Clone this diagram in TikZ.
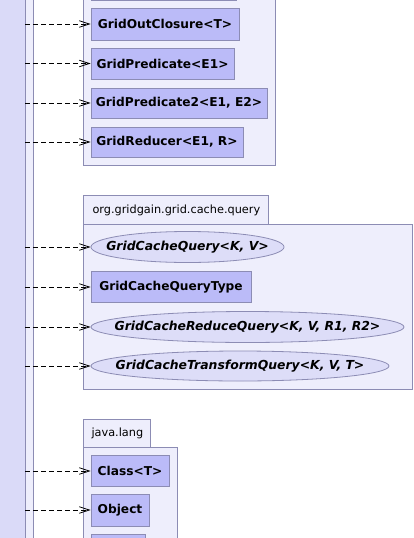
\documentclass[tikz,border=0pt]{standalone}
\usepackage{fontspec}
\setmainfont{DejaVu Sans}
\usetikzlibrary{arrows.meta,shapes.geometric}
\definecolor{band}{RGB}{218,218,248}
\definecolor{strip}{RGB}{238,238,252}
\definecolor{pkg}{RGB}{238,238,252}
\definecolor{cls}{RGB}{187,187,248}
\definecolor{ifc}{RGB}{221,221,248}
\definecolor{bord}{RGB}{140,140,180}
\newcommand{\zw}[1]{\makebox[0pt]{#1}}
\tikzset{
  pkgbox/.style={draw=bord,fill=pkg,line width=0.8pt},
  clsbox/.style={draw=bord,fill=cls,line width=0.8pt,rectangle,inner sep=0pt,font=\fontsize{12.2}{14}\selectfont\bfseries},
  ifcbox/.style={draw=bord,fill=ifc,line width=0.8pt,ellipse,inner sep=0pt,font=\fontsize{12.4}{14}\selectfont\bfseries\itshape},
  tablabel/.style={font=\fontsize{11.3}{13}\selectfont},
  dep/.style={dash pattern=on 5pt off 3pt,line width=0.8pt,-{Straight Barb[length=10pt,width=6.5pt,line width=0.8pt]}}
}
\begin{document}
\begin{tikzpicture}[x=1pt,y=-1pt]
\useasboundingbox (0,0) rectangle (414,538);
\clip (0,0) rectangle (414,538);
\fill[white] (0,0) rectangle (414,538);
% left band
\fill[band] (-5,-10) rectangle (25,560);
\fill[strip] (25,-10) rectangle (33,560);
\draw[bord,line width=0.8pt] (25,-10) -- (25,560);
\draw[bord,line width=0.8pt] (33,-10) -- (33,560);
% package 1
\draw[pkgbox] (83,-20) rectangle (275,165);
\node[clsbox,minimum width=145pt,minimum height=31pt] (n0) at (163.5,-15.5) {};
\node[clsbox,minimum width=148pt,minimum height=32pt] (n1) at (165,24) {GridOutClosure<T>};
\node[clsbox,minimum width=143pt,minimum height=31pt] (n2) at (162.5,63.5) {GridPredicate<E1>};
\node[clsbox,minimum width=176pt,minimum height=30pt] (n3) at (179,103) {GridPredicate2<E1, E2>};
\node[clsbox,minimum width=152pt,minimum height=30pt] (n4) at (167,142) {GridReducer<E1, R>};
% package 2
\draw[pkgbox] (83,195) rectangle (268,224);
\node[tablabel,anchor=west] (t2) at (89,210) {org.gridgain.grid.cache.query};
\draw[pkgbox] (83,224) rectangle (412,389);
\node[ifcbox,minimum width=193pt,minimum height=31pt] (m1) at (187.5,247) {\zw{GridCacheQuery<K, V>}};
\node[clsbox,minimum width=160pt,minimum height=31pt] (m2) at (171,287) {GridCacheQueryType};
\node[ifcbox,minimum width=313pt,minimum height=31pt] (m3) at (247.5,327) {\zw{GridCacheReduceQuery<K, V, R1, R2>}};
\node[ifcbox,minimum width=298pt,minimum height=30pt] (m4) at (240,366) {\zw{GridCacheTransformQuery<K, V, T>}};
% package 3
\draw[pkgbox] (83,419) rectangle (150,447);
\node[tablabel,anchor=west] (t3) at (88,433.5) {java.lang};
\draw[pkgbox] (83,447) rectangle (177,600);
\node[clsbox,minimum width=78pt,minimum height=31pt] (k1) at (130,471) {Class<T>};
\node[clsbox,minimum width=58pt,minimum height=32pt] (k2) at (120,510) {Object};
\node[clsbox,minimum width=54pt,minimum height=31pt] (k3) at (118,549.5) {};
% sources
\foreach \n/\y in {1/24,2/63.5,3/103,4/142}{\coordinate (a\n) at (25,\y);}
\foreach \n/\y in {1/247,2/287,3/327,4/366}{\coordinate (b\n) at (25,\y);}
\coordinate (c1) at (25,471);
\coordinate (c2) at (25,510);
\draw[dep] (a1) -- (n1.west);
\draw[dep] (a2) -- (n2.west);
\draw[dep] (a3) -- (n3.west);
\draw[dep] (a4) -- (n4.west);
\draw[dep] (b1) -- (m1.west);
\draw[dep] (b2) -- (m2.west);
\draw[dep] (b3) -- (m3.west);
\draw[dep] (b4) -- (m4.west);
\draw[dep] (c1) -- (k1.west);
\draw[dep] (c2) -- (k2.west);
\end{tikzpicture}
\end{document}
